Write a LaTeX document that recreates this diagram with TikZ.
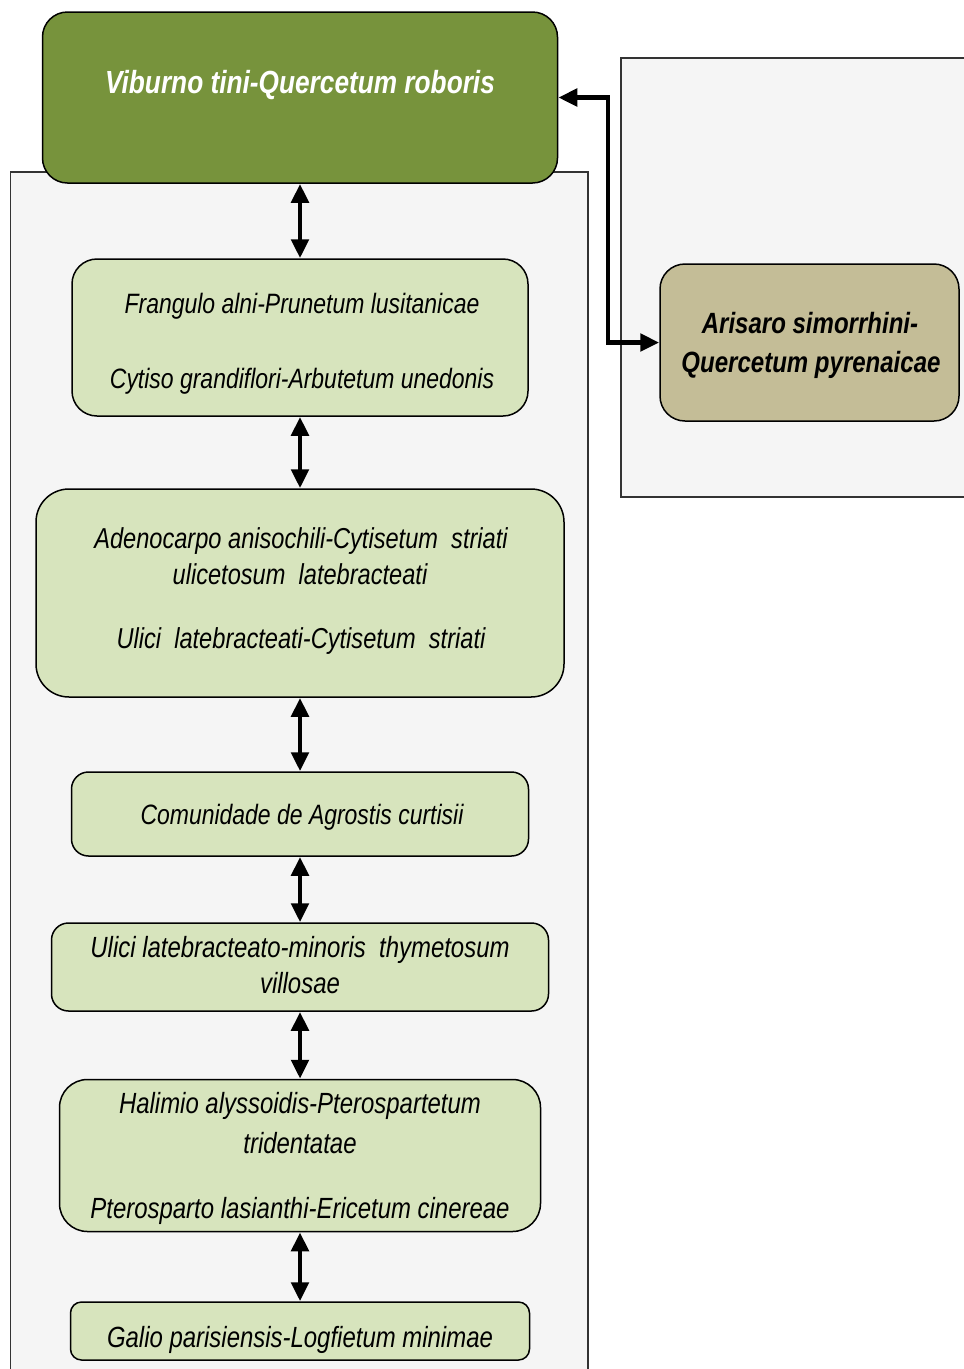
\documentclass[tikz,border=0pt]{standalone}
\usepackage{fontspec}
\setmainfont{Liberation Sans}[FakeStretch=0.82]
\usetikzlibrary{arrows.meta}
\definecolor{vibgreen}{RGB}{119,147,60}
\definecolor{lightgreen}{RGB}{215,228,189}
\definecolor{arikhaki}{RGB}{196,189,151}
\definecolor{bggray}{RGB}{245,245,245}
\begin{document}
\begin{tikzpicture}[x=1pt,y=-1pt,
  panel/.style={draw=black!80, line width=1.2pt, fill=bggray},
  box/.style={draw=black, line width=1.5pt, rounded corners=#1, fill=lightgreen, inner sep=0pt, anchor=center},
  box/.default=25pt,
  txt/.style={anchor=base, inner sep=0pt, font=\fontsize{28}{34}\selectfont\itshape},
  txtb/.style={anchor=base, inner sep=0pt, font=\fontsize{29.2}{35}\selectfont\itshape},
  btxt/.style={anchor=base, inner sep=0pt, font=\fontsize{29.3}{35}\selectfont\bfseries\itshape},
  arr/.style={line width=4.8pt, {Triangle[width=17pt,length=19pt]}-{Triangle[width=17pt,length=19pt]}}
]
\clip (0,0) rectangle (964,1369);
% background panels
\draw[panel] (10.5,172) rectangle (588,1380);
\draw[panel] (621,58) rectangle (975,497);

% boxes
\node[box=25pt, fill=vibgreen, minimum width=515pt, minimum height=171pt] (vib) at (300,97.5) {};
\node[box=25pt, fill=arikhaki, minimum width=299pt, minimum height=157pt] (ari) at (809.5,342.5) {};
\node[box=25pt, minimum width=456pt, minimum height=157pt] (b1) at (300,337.5) {};
\node[box=33pt, minimum width=528pt, minimum height=208pt] (b2) at (300,593) {};
\node[box=17pt, minimum width=457pt, minimum height=84pt] (b3) at (300,814) {};
\node[box=17pt, minimum width=497pt, minimum height=88pt] (b4) at (300,967) {};
\node[box=28pt, minimum width=481pt, minimum height=152pt] (b5) at (300,1155.5) {};
\node[box=11pt, minimum width=459pt, minimum height=58pt] (b6) at (300,1331) {};

% texts
\node[btxt, text=white, font=\fontsize{32}{38}\selectfont\bfseries\itshape] (tvib) at (300,93) {Viburno tini-Quercetum roboris};
\node[btxt] (tari1) at (810,333) {Arisaro simorrhini-};
\node[btxt] (tari2) at (811,372) {Quercetum pyrenaicae};
\node[txt] (t11) at (302,313) {Frangulo alni-Prunetum lusitanicae};
\node[txt] (t12) at (302,388) {Cytiso grandiflori-Arbutetum unedonis};
\node[txt, font=\fontsize{28.8}{35}\selectfont\itshape] (t21) at (301,548) {Adenocarpo anisochili-Cytisetum~ striati};
\node[txt, font=\fontsize{28.8}{35}\selectfont\itshape] (t22) at (300,584) {ulicetosum~ latebracteati};
\node[txt, font=\fontsize{28.8}{35}\selectfont\itshape] (t23) at (301,648) {Ulici~ latebracteati-Cytisetum~ striati};
\node[txt] (t31) at (302,824) {Comunidade de Agrostis curtisii};
\node[txtb] (t41) at (300,957) {Ulici latebracteato-minoris~ thymetosum};
\node[txtb] (t42) at (300,993) {villosae};
\node[txtb] (t51) at (300,1113) {Halimio alyssoidis-Pterospartetum};
\node[txtb] (t52) at (300,1153) {tridentatae};
\node[txtb] (t53) at (300,1218) {Pterosparto lasianthi-Ericetum cinereae};
\node[txtb] (t61) at (300,1347) {Galio parisiensis-Logfietum minimae};

% connectors
\draw[arr] (vib.south) -- (b1.north);
\draw[arr] (b1.south) -- (b2.north);
\draw[arr] (b2.south) -- (b3.north);
\draw[arr] (b3.south) -- (b4.north);
\draw[arr] (b4.south) -- (b5.north);
\draw[arr] (b5.south) -- (b6.north);
\coordinate (bend) at (608,220);
\draw[arr] (vib.east) -| (bend) |- (ari.west);
\end{tikzpicture}
\end{document}
